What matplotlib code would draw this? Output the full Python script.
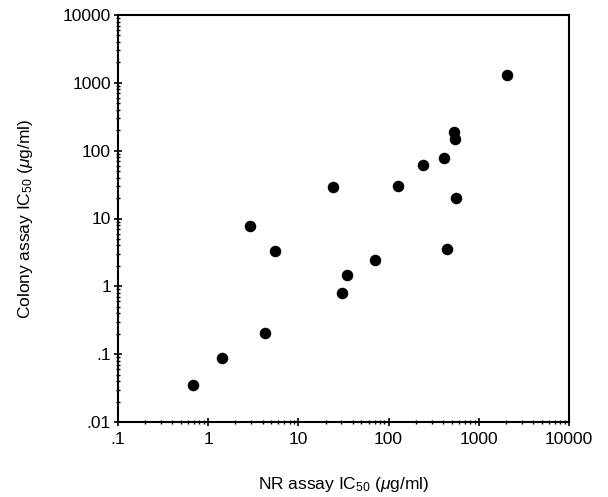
import matplotlib
matplotlib.use("Agg")
import matplotlib.pyplot as plt
from matplotlib.ticker import FixedLocator, FixedFormatter, LogLocator, NullFormatter

plt.rcParams['font.family'] = ['Liberation Sans', 'DejaVu Sans']
plt.rcParams['mathtext.fontset'] = 'custom'
plt.rcParams['mathtext.rm'] = 'Liberation Sans'
plt.rcParams['mathtext.it'] = 'Liberation Sans:italic'
plt.rcParams['mathtext.bf'] = 'Liberation Sans:bold'

# Data: NR assay IC50 vs Colony assay IC50 (ug/ml)
nr_ic50 = [0.68, 1.43, 4.3, 2.93, 5.55, 23.9, 35, 30.8, 70, 126, 239, 408, 441, 528, 541, 555, 2047]
colony_ic50 = [0.035, 0.088, 0.206, 7.8, 3.3, 29, 1.47, 0.8, 2.45, 30, 62, 78, 3.56, 189, 149, 20.1, 1312]

x_ticks = [0.1, 1, 10, 100, 1000, 10000]
x_tick_labels = ['.1', '1', '10', '100', '1000', '10000']
y_ticks = [0.01, 0.1, 1, 10, 100, 1000, 10000]
y_tick_labels = ['.01', '.1', '1', '10', '100', '1000', '10000']

fig = plt.figure(figsize=(6.08, 4.97), dpi=100)
ax = fig.add_axes([118/608, 75/497, 451/608, 407/497])

ax.plot(nr_ic50, colony_ic50, 'o', color='black', markersize=8.3, markeredgewidth=0)

ax.set_xscale('log')
ax.set_yscale('log')
ax.set_xlim(0.1, 10000)
ax.set_ylim(0.01, 10000)

ax.xaxis.set_major_locator(FixedLocator(x_ticks))
ax.xaxis.set_major_formatter(FixedFormatter(x_tick_labels))
ax.yaxis.set_major_locator(FixedLocator(y_ticks))
ax.yaxis.set_major_formatter(FixedFormatter(y_tick_labels))
ax.xaxis.set_minor_locator(LogLocator(base=10, subs=range(2, 10), numticks=20))
ax.yaxis.set_minor_locator(LogLocator(base=10, subs=range(2, 10), numticks=20))
ax.xaxis.set_minor_formatter(NullFormatter())
ax.yaxis.set_minor_formatter(NullFormatter())

ax.tick_params(which='major', direction='inout', length=6, width=1.2, labelsize=12.5, pad=2)
ax.tick_params(which='minor', direction='inout', length=3.5, width=1.0)
ax.tick_params(axis='x', which='major', pad=4)

for s in ax.spines.values():
    s.set_linewidth(1.5)

ax.set_xlabel(r'NR assay IC$_{50}$ ($\mathit{\mu}$g/ml)', fontsize=12.5, labelpad=20)
ax.set_ylabel(r'Colony assay IC$_{50}$ ($\mathit{\mu}$g/ml)', fontsize=12.5, labelpad=20)

fig.savefig('out.png', dpi=100, facecolor='white')
